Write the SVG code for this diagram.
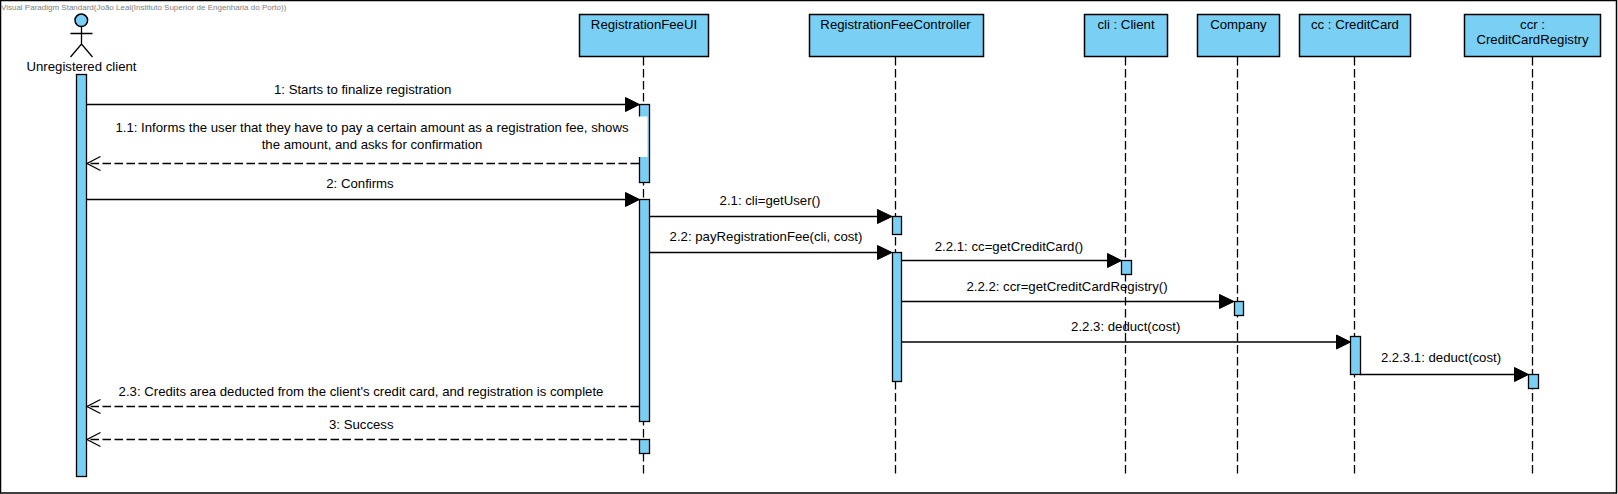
<svg xmlns="http://www.w3.org/2000/svg" width="1618" height="494" viewBox="0 0 1618 494">
<style>
text{font-family:"Liberation Sans",Arial,sans-serif;font-size:13.2px;fill:#000;text-anchor:middle}
.wm{font-size:8px;fill:#808080;text-anchor:start}
.box{fill:#7ACFF5;stroke:#000;stroke-width:1.5}
.act{fill:#7ACFF5;stroke:#000;stroke-width:1.3}
.ll{stroke:#000;stroke-width:1.3;stroke-dasharray:8.5 3.5;fill:none}
.msg{stroke:#000;stroke-width:1.4;fill:none}
.ret{stroke:#000;stroke-width:1.4;stroke-dasharray:8.5 3.5;fill:none}
.hd{fill:#000;stroke:#000}
.open{fill:none;stroke:#000;stroke-width:1.3}
</style>
<rect width="1618" height="494" fill="#fff"/>
<rect x="0.5" y="0.5" width="1616" height="492.5" fill="#fff" stroke="#000" stroke-width="1.5"/>
<text class="wm" x="1" y="10">Visual Paradigm Standard(João Leal(Instituto Superior de Engenharia do Porto))</text>
<g id="lifelines">
<line class="ll" x1="643.5" y1="57" x2="643.5" y2="475"/>
<line class="ll" x1="895.5" y1="57" x2="895.5" y2="475"/>
<line class="ll" x1="1125.5" y1="57" x2="1125.5" y2="475"/>
<line class="ll" x1="1237.5" y1="57" x2="1237.5" y2="475"/>
<line class="ll" x1="1354.5" y1="57" x2="1354.5" y2="475"/>
<line class="ll" x1="1532.5" y1="57" x2="1532.5" y2="475"/>
</g>
<g id="actor-client">
<circle class="box" cx="81.3" cy="20.3" r="6.3"/>
<path class="open" d="M81.5 27V44M70.5 33.5H92.5M70.5 57L81.5 44L92.5 57"/>
<text x="81.5" y="70.5">Unregistered client</text>
<rect class="act" x="76.5" y="74.5" width="10" height="402"/>
</g>
<g id="node-ui">
<rect class="box" x="579.5" y="14.5" width="129" height="42"/>
<text x="644" y="28.5">RegistrationFeeUI</text>
<rect class="act" x="639.5" y="104.5" width="10" height="78"/>
<rect x="625" y="116.5" width="22.5" height="40.5" fill="#fff"/>
<rect class="act" x="639.5" y="199.5" width="10" height="222"/>
<rect class="act" x="639.5" y="439.5" width="10" height="14"/>
</g>
<g id="node-controller">
<rect class="box" x="809.5" y="14.5" width="174" height="42"/>
<text x="895.5" y="28.5">RegistrationFeeController</text>
<rect class="act" x="892.5" y="216.5" width="9" height="18"/>
<rect class="act" x="892.5" y="252.5" width="9" height="129"/>
</g>
<g id="node-client">
<rect class="box" x="1084.5" y="14.5" width="83" height="42"/>
<text x="1126" y="28.5">cli : Client</text>
<rect class="act" x="1121.5" y="260.5" width="10" height="14"/>
</g>
<g id="node-company">
<rect class="box" x="1197.5" y="14.5" width="82" height="42"/>
<text x="1238.5" y="28.5">Company</text>
<rect class="act" x="1234.5" y="301.5" width="9" height="14"/>
</g>
<g id="node-creditcard">
<rect class="box" x="1299.5" y="14.5" width="111" height="42"/>
<text x="1355" y="28.5">cc : CreditCard</text>
<rect class="act" x="1350.5" y="336.5" width="10" height="38"/>
</g>
<g id="node-registry">
<rect class="box" x="1464.5" y="14.5" width="136" height="42"/>
<text x="1532.5" y="28.5">ccr :</text>
<text x="1532.5" y="44">CreditCardRegistry</text>
<rect class="act" x="1528.5" y="374.5" width="10" height="14"/>
</g>
<g id="connectors">
<line class="msg" x1="87" y1="104.5" x2="626" y2="104.5"/><path class="hd" d="M625.5 97.5L639.5 104.5L625.5 111.5Z"/>
<line class="ret" x1="639" y1="163.5" x2="88" y2="163.5"/><path class="open" d="M100.5 156.5L87 163.5L100.5 170.5"/>
<line class="msg" x1="87" y1="199.5" x2="626" y2="199.5"/><path class="hd" d="M625.5 192.5L639.5 199.5L625.5 206.5Z"/>
<line class="msg" x1="650" y1="216.5" x2="878" y2="216.5"/><path class="hd" d="M877.5 209.5L892 216.5L877.5 223.5Z"/>
<line class="msg" x1="650" y1="252.5" x2="878" y2="252.5"/><path class="hd" d="M877.5 245.5L892 252.5L877.5 259.5Z"/>
<line class="msg" x1="902" y1="260.5" x2="1108" y2="260.5"/><path class="hd" d="M1107.5 253.5L1121.5 260.5L1107.5 267.5Z"/>
<line class="msg" x1="902" y1="301.5" x2="1220" y2="301.5"/><path class="hd" d="M1219.5 294.5L1234 301.5L1219.5 308.5Z"/>
<line class="msg" x1="902" y1="342" x2="1337" y2="342"/><path class="hd" d="M1336.5 335L1350.5 342L1336.5 349Z"/>
<line class="msg" x1="1360" y1="374.5" x2="1515" y2="374.5"/><path class="hd" d="M1514.5 367.5L1528.5 374.5L1514.5 381.5Z"/>
<line class="ret" x1="639" y1="406.5" x2="88" y2="406.5"/><path class="open" d="M100.5 399.5L87 406.5L100.5 413.5"/>
<line class="ret" x1="639" y1="439.5" x2="88" y2="439.5"/><path class="open" d="M100.5 432.5L87 439.5L100.5 446.5"/>
</g>
<g id="labels">
<text x="362.7" y="94">1: Starts to finalize registration</text>
<text x="372" y="132">1.1: Informs the user that they have to pay a certain amount as a registration fee, shows</text>
<text x="372" y="149">the amount, and asks for confirmation</text>
<text x="360" y="188">2: Confirms</text>
<text x="770" y="205">2.1: cli=getUser()</text>
<text x="766" y="241">2.2: payRegistrationFee(cli, cost)</text>
<text x="1009" y="250.5">2.2.1: cc=getCreditCard()</text>
<text x="1067" y="290.5">2.2.2: ccr=getCreditCardRegistry()</text>
<text x="1125.7" y="331">2.2.3: deduct(cost)</text>
<text x="1441" y="362">2.2.3.1: deduct(cost)</text>
<text x="361" y="396">2.3: Credits area deducted from the client's credit card, and registration is complete</text>
<text x="361.3" y="428.5">3: Success</text>
</g>
</svg>
